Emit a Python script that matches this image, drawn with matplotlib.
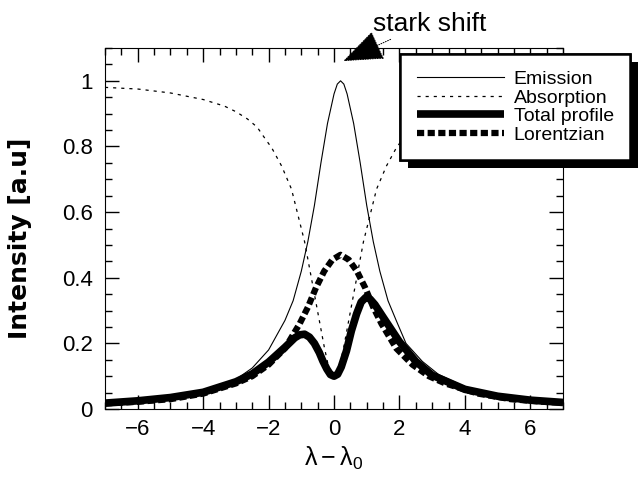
import matplotlib
matplotlib.use("Agg")
import matplotlib.pyplot as plt
import matplotlib.patheffects as pe
from matplotlib.ticker import MultipleLocator

plt.rcParams['font.family'] = ['Liberation Sans', 'DejaVu Sans']
plt.rcParams['mathtext.fontset'] = 'custom'
plt.rcParams['mathtext.rm'] = 'Liberation Sans'
plt.rcParams['mathtext.it'] = 'Liberation Sans'

# values
emission_x = [-7, -6, -5, -4, -3, -2.5, -2, -1.5, -1.25, -1.0, -0.8, -0.6, -0.4, -0.2, 0.0, 0.1, 0.2,
              0.3, 0.4, 0.6, 0.8, 1.0, 1.2, 1.4, 1.65, 1.9, 2.2, 2.7, 3.2, 4, 5, 6, 7]
emission_y = [0.02, 0.027, 0.037, 0.055, 0.09, 0.125, 0.18, 0.27, 0.33, 0.42, 0.51, 0.62, 0.75, 0.87, 0.96, 0.99, 1.0,
              0.99, 0.96, 0.87, 0.75, 0.62, 0.51, 0.42, 0.33, 0.27, 0.2, 0.145, 0.105, 0.068, 0.043, 0.03, 0.022]

absorption_x = [-7, -6, -5, -4, -3.35, -3, -2.65, -2.35, -2.15, -1.9, -1.6, -1.3, -1.1, -0.9, -0.75, -0.6, -0.45, -0.3,
                -0.15, 0.0, 0.15, 0.3, 0.45, 0.6, 0.75, 0.9, 1.1, 1.3, 1.6, 1.9, 2.15, 2.35, 2.65, 3, 3.35, 4, 5, 6, 7]
absorption_y = [0.98, 0.975, 0.963, 0.943, 0.923, 0.906, 0.884, 0.859, 0.83, 0.795, 0.74, 0.67, 0.59, 0.51, 0.43, 0.35,
                0.27, 0.19, 0.12, 0.1, 0.12, 0.19, 0.27, 0.35, 0.43, 0.51, 0.59, 0.67, 0.74, 0.795, 0.83, 0.859, 0.884,
                0.906, 0.923, 0.943, 0.963, 0.975, 0.98]

total_x = [-7, -6, -5, -4, -3, -2.5, -2, -1.5, -1.2, -1.05, -0.9, -0.75, -0.6, -0.45, -0.34, -0.22, -0.11, 0.0,
           0.11, 0.22, 0.38, 0.53, 0.69, 0.83, 0.97, 1.1, 1.25, 1.5, 2, 2.5, 3, 4, 5, 6, 7]
total_y = [0.018, 0.025, 0.035, 0.051, 0.083, 0.107, 0.143, 0.188, 0.217, 0.226, 0.228, 0.219, 0.2, 0.172, 0.146, 0.122, 0.105, 0.1,
           0.106, 0.128, 0.177, 0.238, 0.29, 0.326, 0.34, 0.335, 0.318, 0.28, 0.205, 0.145, 0.103, 0.06, 0.039, 0.027, 0.02]

lorentz_x = [-7, -6, -5, -4, -3, -2.5, -2, -1.5, -1.05, -0.8, -0.55, -0.3, -0.05, 0.2,
             0.45, 0.7, 0.95, 1.2, 1.45, 1.9, 2.4, 2.9, 3.4, 4.4, 5.4, 6.4, 7]
lorentz_y = [0.017, 0.022, 0.03, 0.047, 0.078, 0.1, 0.135, 0.185, 0.26, 0.31, 0.37, 0.42, 0.455, 0.47,
             0.455, 0.42, 0.37, 0.31, 0.26, 0.185, 0.135, 0.1, 0.078, 0.047, 0.03, 0.022, 0.019]

fig = plt.figure(figsize=(6.38, 4.79), dpi=100)
ax = fig.add_axes([0.1646, 0.1461, 0.7179, 0.7537])

ax.plot(emission_x, emission_y, color='black', lw=0.8, label='Emission')
ax.plot(absorption_x, absorption_y, color='black', lw=0.9, ls=(0, (2.5, 4)), label='Absorption')
ax.plot(total_x, total_y, color='black', lw=5.5, solid_capstyle='butt', label='Total profile')
ax.plot(lorentz_x, lorentz_y, color='black', lw=4.5, ls=(0, (1.15, 0.55)), label='Lorentzian')

ax.set_xlim(-7, 7)
ax.set_ylim(0, 1.1)
ax.xaxis.set_major_locator(MultipleLocator(2))
ax.xaxis.set_minor_locator(MultipleLocator(0.5))
ax.yaxis.set_minor_locator(MultipleLocator(0.05))
ax.set_yticks([0, 0.2, 0.4, 0.6, 0.8, 1.0])
ax.set_yticklabels(['0', '0.2', '0.4', '0.6', '0.8', '1'])
ax.tick_params(which='both', direction='in', top=True, right=True, labelsize=16, width=1)
ax.tick_params(which='major', length=10)
ax.tick_params(which='minor', length=5)
ax.tick_params(axis='y', pad=9)
ax.tick_params(axis='x', pad=7)

ax.set_ylabel('Intensity [a.u]', fontsize=18, fontweight='bold', family='DejaVu Sans')
ax.yaxis.set_label_coords(-0.16, 0.473)
ax.set_xlabel(r'$\mathrm{\lambda - \lambda_0}$', fontsize=18, labelpad=4)

leg = ax.legend(loc='upper left', bbox_to_anchor=(400 / 638, (479 - 54) / 479), bbox_transform=fig.transFigure,
                fontsize=14, frameon=True, fancybox=False, edgecolor='black', framealpha=1,
                handlelength=4.5, borderpad=0.85, labelspacing=0.05, handletextpad=0.5, borderaxespad=0)
leg.get_frame().set_linewidth(1.8)
leg.get_frame().set_path_effects([pe.withSimplePatchShadow(offset=(5.5, -5.5), shadow_rgbFace='black', alpha=1),
                                  pe.Normal()])

ax.annotate('stark shift', xy=(0.28, 1.06), xycoords='data',
            xytext=(373, 479 - 31), textcoords='figure pixels', fontsize=19, ha='left', va='baseline',
            annotation_clip=False,
            arrowprops=dict(arrowstyle='-|>,head_length=2.6,head_width=1.0', mutation_scale=10, color='black',
                            lw=0.7, ls=(0, (1, 1.5)), relpos=(0.22, 0), shrinkA=1, shrinkB=0))

fig.savefig('out.png', dpi=100)
